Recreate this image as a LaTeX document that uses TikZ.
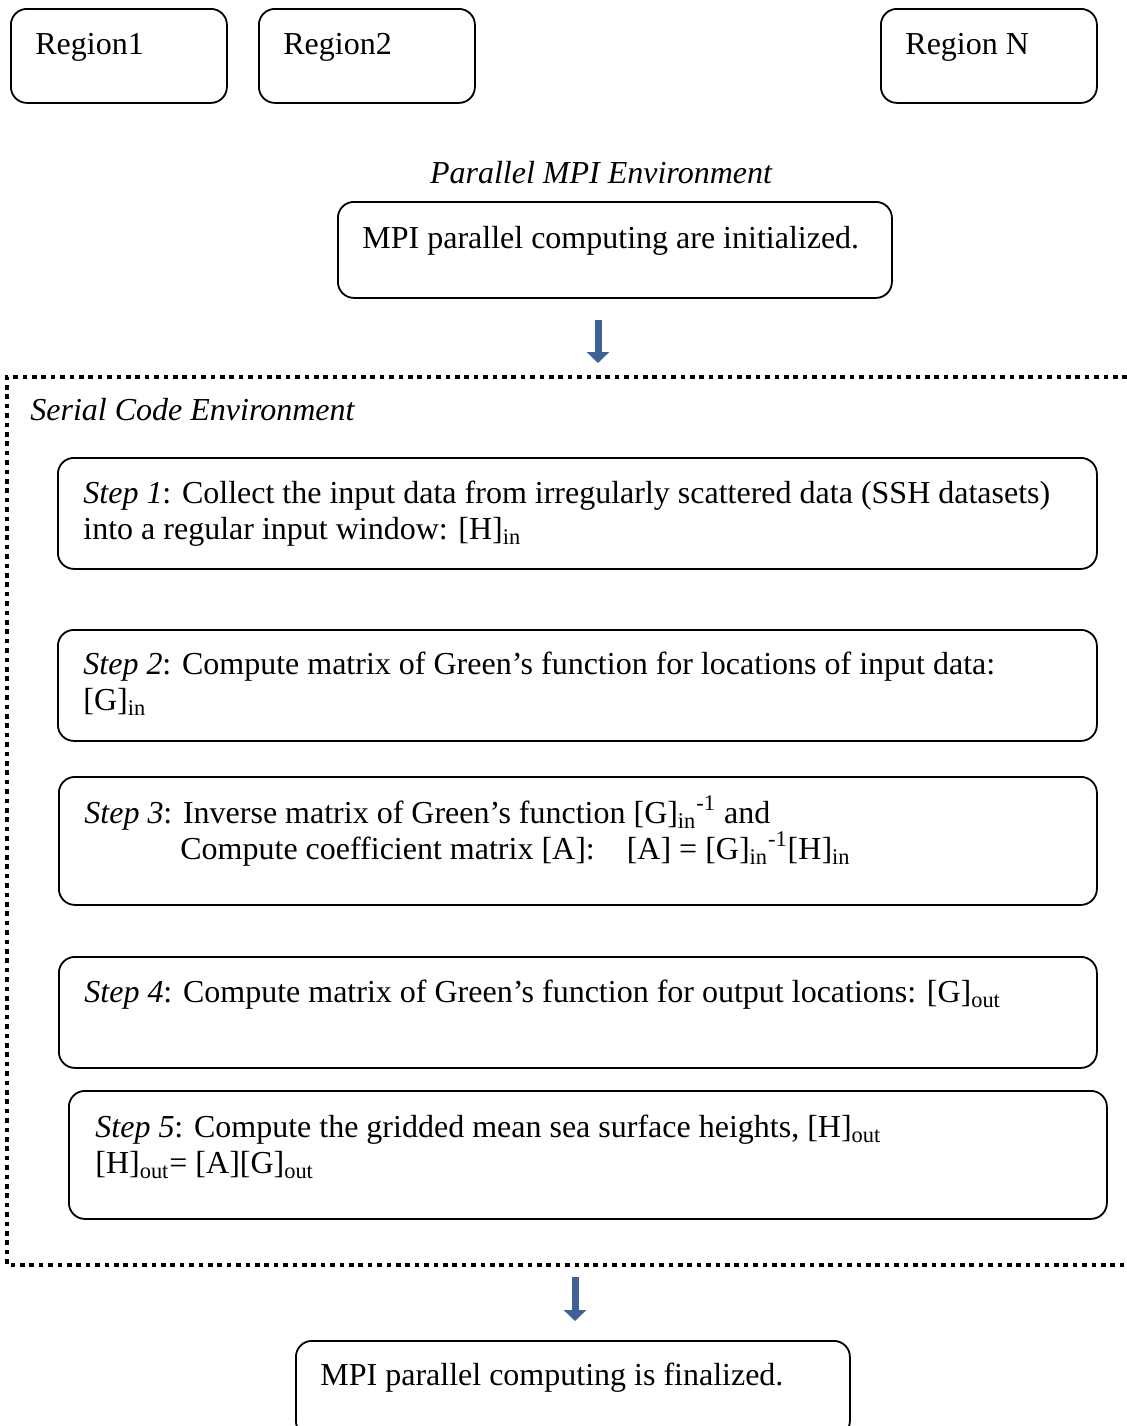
\documentclass[tikz,border=0pt]{standalone}
\usepackage{fontspec}
\setmainfont{Liberation Serif}
\usetikzlibrary{arrows.meta}
\definecolor{arrblue}{HTML}{3E6294}
\tikzset{
    mybox/.style = {rectangle, rounded corners=8pt, draw=black, line width=0.9pt, anchor=north west, inner sep=0pt},
    mytext/.style = {anchor=base west, align=left, inner sep=0pt, font=\fontsize{16}{18}\selectfont},
    mytitle/.style = {inner sep=0pt, font=\fontsize{16}{18}\selectfont\itshape},
    myarrow/.style = {-{Triangle[width=11pt,length=5.5pt]}, line width=3.5pt, arrblue},
    mydots/.style = {line width=2pt, dash pattern=on 2.3pt off 2.4pt, black}
}

\begin{document}
\begin{tikzpicture}[x=0.5pt,y=-0.5pt]
\useasboundingbox (0,0) rectangle (1127,1426);
%
\node[mybox,minimum width=108pt,minimum height=47pt] at (10,8) (r1) {};
\node[mybox,minimum width=108pt,minimum height=47pt] at (258,8) (r2) {};
\node[mybox,minimum width=108pt,minimum height=47pt] at (880,8) (rN) {};
\node[mytext] at (35,54) (r1t) {Region1};
\node[mytext] at (283,54) (r2t) {Region2};
\node[mytext] at (905,54) (rNt) {Region N};
%
\node[mytitle,anchor=base] at (601,183) (par) {Parallel MPI Environment};
\node[mybox,minimum width=277pt,minimum height=48pt] at (337,201) (init) {};
\node[mytext] at (362,248) (initt) {MPI parallel computing are initialized.};
%
\coordinate (a1s) at (598,320);
\coordinate (a1e) at (598,363);
\draw[myarrow] (a1s) -- (a1e);
%
\draw[mydots] (1127,377) -- (7,377) -- (7,1265) -- (1127,1265);
\node[mytitle,anchor=base west] at (30,420) (ser) {Serial Code Environment};
%
\node[mybox,minimum width=519.5pt,minimum height=55.5pt] at (57,457) (s1) {};
\node[mybox,minimum width=519.5pt,minimum height=55.5pt] at (57,629) (s2) {};
\node[mybox,minimum width=519pt,minimum height=64pt] at (58,776) (s3) {};
\node[mybox,minimum width=519pt,minimum height=55.5pt] at (58,956) (s4) {};
\node[mybox,minimum width=519pt,minimum height=64pt] at (68,1090) (s5) {};
%
% base of a two-line node is its last line
\node[mytext] at (83,539) (s1t) {\textit{Step 1}: Collect the input data from irregularly scattered data (SSH datasets)\\into a regular input window: [H]\textsubscript{in}};
\node[mytext] at (83,710) (s2t) {\textit{Step 2}: Compute matrix of Green’s function for locations of input data:\\{}[G]\textsubscript{in}};
\node[mytext] at (84,859) (s3t) {\textit{Step 3}: Inverse matrix of Green’s function [G]\textsubscript{in}\textsuperscript{-1} and\\\hphantom{\textit{Step 3}:}\ Compute coefficient matrix [A]:\quad [A] = [G]\textsubscript{in}\textsuperscript{-1}[H]\textsubscript{in}};
\node[mytext] at (84,1002) (s4t) {\textit{Step 4}: Compute matrix of Green’s function for output locations: [G]\textsubscript{out}};
\node[mytext] at (95,1173) (s5t) {\textit{Step 5}: Compute the gridded mean sea surface heights, [H]\textsubscript{out}\\{}[H]\textsubscript{out}= [A][G]\textsubscript{out}};
%
\coordinate (a2s) at (575,1277);
\coordinate (a2e) at (575,1321);
\draw[myarrow] (a2s) -- (a2e);
%
\node[mybox,minimum width=277pt,minimum height=48pt] at (295,1340) (fin) {};
\node[mytext] at (320,1385) (fint) {MPI parallel computing is finalized.};

\end{tikzpicture}
\end{document}
